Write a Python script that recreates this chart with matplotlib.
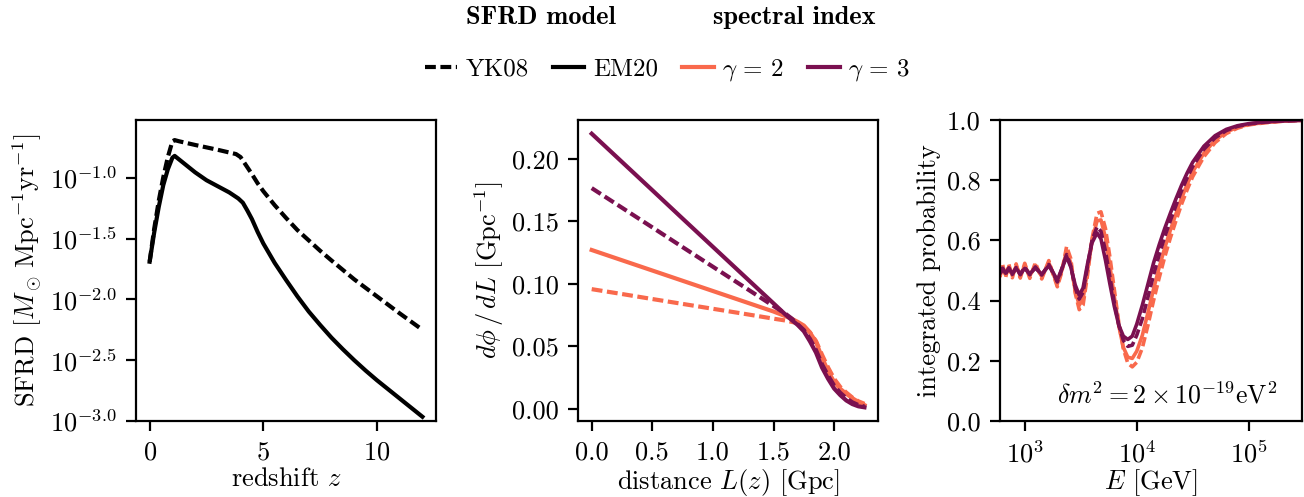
import matplotlib
import matplotlib.pyplot as plt
import numpy as np
from matplotlib.lines import Line2D

matplotlib.use('Agg')

# colours for the two spectral indices
C_G2 = '#f9694c'
C_G3 = '#7a1050'

# --- panel 1: star formation rate density, log10 values
Z_YK08 = [0, 0.2, 0.4, 0.6, 0.8, 1.0, 1.1, 1.3, 2.0, 3.0, 3.8, 4.0, 4.25, 4.5,
          4.75, 5.0, 5.5, 6.0, 6.5, 7.0, 7.5, 8.0, 9.0, 10.0, 11.0, 12.0]
LOG_SFRD_YK08 = [-1.69, -1.42, -1.19, -0.995, -0.83, -0.70, -0.69, -0.70, -0.73,
                 -0.77, -0.805, -0.83, -0.90, -0.97, -1.045, -1.11, -1.225, -1.33,
                 -1.43, -1.515, -1.60, -1.68, -1.835, -1.975, -2.115, -2.25]
Z_EM20 = [0, 0.2, 0.4, 0.6, 0.8, 1.0, 1.1, 1.3, 1.6, 2.0, 2.5, 3.0, 3.5, 3.9,
          4.1, 4.3, 4.5, 4.75, 5.0, 5.5, 6.0, 6.5, 7.0, 7.5, 8.0, 8.5, 9.0, 9.5,
          10.0, 10.5, 11.0, 11.5, 12.0]
LOG_SFRD_EM20 = [-1.69, -1.45, -1.24, -1.06, -0.93, -0.835, -0.82, -0.85, -0.895,
                 -0.955, -1.02, -1.07, -1.12, -1.17, -1.205, -1.27, -1.34, -1.445,
                 -1.54, -1.70, -1.84, -1.975, -2.10, -2.21, -2.315, -2.41, -2.50,
                 -2.585, -2.665, -2.74, -2.815, -2.89, -2.965]
SFRD_TICKS = [-1.0, -1.5, -2.0, -2.5, -3.0]

# --- panel 2: distance distribution dphi/dL
L_GPC = [0, 0.25, 0.5, 0.75, 1.0, 1.25, 1.5, 1.6, 1.65, 1.7, 1.75, 1.8, 1.85,
         1.9, 1.95, 2.0, 2.05, 2.1, 2.15, 2.2, 2.25]
DPHI_YK08_G2 = [0.0957, 0.0918, 0.0878, 0.0839, 0.0800, 0.0761, 0.0721, 0.0706,
                0.0695, 0.0685, 0.0660, 0.0612, 0.0542, 0.0432, 0.0330, 0.0240,
                0.0175, 0.0130, 0.0090, 0.0060, 0.0040]
DPHI_YK08_G3 = [0.1765, 0.1608, 0.1451, 0.1293, 0.1136, 0.0979, 0.0822, 0.0759,
                0.0722, 0.0675, 0.0630, 0.0560, 0.0470, 0.0355, 0.0265, 0.0185,
                0.0128, 0.0085, 0.0052, 0.0030, 0.0018]
DPHI_EM20_G2 = [0.1270, 0.1188, 0.1106, 0.1024, 0.0942, 0.0860, 0.0778, 0.0740,
                0.0720, 0.0695, 0.0666, 0.0610, 0.0535, 0.0410, 0.0300, 0.0215,
                0.0160, 0.0120, 0.0085, 0.0055, 0.0030]
DPHI_EM20_G3 = [0.2200, 0.1974, 0.1748, 0.1521, 0.1295, 0.1069, 0.0843, 0.0752,
                0.0710, 0.0670, 0.0620, 0.0540, 0.0450, 0.0330, 0.0240, 0.0162,
                0.0110, 0.0067, 0.0038, 0.0020, 0.0012]

# --- panel 3: integrated probability vs energy (log10 E in GeV)
LOG_E = [2.778, 2.801, 2.828, 2.857, 2.888, 2.922, 2.959, 2.999, 3.044, 3.094,
         3.151, 3.214, 3.25, 3.29, 3.33, 3.373, 3.41, 3.45, 3.486, 3.52, 3.56,
         3.60, 3.645, 3.68, 3.72, 3.76, 3.80, 3.84, 3.88, 3.92, 3.96, 4.00,
         4.05, 4.10, 4.15, 4.20, 4.25, 4.30, 4.35, 4.40, 4.45, 4.50, 4.60,
         4.70, 4.80, 4.90, 5.00, 5.15, 5.30, 5.477]
PROB_EM20_G3 = [.491, .505, .491, .506, .490, .507, .489, .507, .489, .508,
                .488, .516, .495, .468, .505, .546, .512, .452, .418, .442,
                .522, .592, .625, .605, .535, .455, .380, .318, .282, .271,
                .282, .322, .385, .455, .525, .585, .640, .690, .738, .783,
                .824, .860, .913, .948, .969, .981, .988, .994, .997, .999]
PROB_YK08_G3 = [.489, .508, .488, .509, .487, .510, .486, .511, .486, .512,
                .485, .520, .494, .462, .505, .553, .515, .443, .405, .428,
                .515, .600, .645, .630, .565, .478, .392, .318, .268, .248,
                .252, .285, .340, .412, .485, .552, .612, .666, .716, .765,
                .808, .846, .903, .941, .965, .979, .987, .993, .997, .999]
PROB_EM20_G2 = [.486, .512, .485, .513, .484, .515, .483, .516, .482, .518,
                .480, .526, .492, .455, .500, .565, .525, .432, .385, .405,
                .500, .600, .665, .668, .610, .515, .412, .315, .245, .212,
                .208, .232, .285, .360, .438, .510, .575, .634, .688, .740,
                .786, .828, .890, .933, .960, .976, .985, .992, .996, .999]
PROB_YK08_G2 = [.478, .520, .477, .521, .476, .522, .475, .524, .474, .526,
                .472, .533, .490, .446, .495, .580, .540, .425, .370, .385,
                .485, .605, .690, .695, .640, .545, .435, .325, .240, .192,
                .180, .195, .243, .318, .400, .475, .545, .608, .665, .720,
                .768, .812, .878, .925, .955, .973, .984, .991, .996, .999]

DASH = (0, (2.6, 1.1))


def main():
    plt.rcParams['font.family'] = 'serif'
    plt.rcParams['font.serif'] = ['cmr10']
    plt.rcParams['mathtext.fontset'] = 'cm'
    plt.rcParams['axes.unicode_minus'] = False
    plt.rcParams['axes.formatter.use_mathtext'] = True
    plt.rcParams['font.size'] = 9.5
    plt.rcParams['axes.labelpad'] = 2

    fig = plt.figure(figsize=(6.52, 2.485), dpi=200)
    ax1 = fig.add_axes([0.1043, 0.1529, 0.2301, 0.6056])
    ax2 = fig.add_axes([0.4433, 0.1529, 0.2301, 0.6056])
    ax3 = fig.add_axes([0.7669, 0.1529, 0.2316, 0.6056])

    # SFRD
    ax1.plot(Z_YK08, 10 ** np.array(LOG_SFRD_YK08), color='k', lw=1.5, ls=DASH)
    ax1.plot(Z_EM20, 10 ** np.array(LOG_SFRD_EM20), color='k', lw=1.5)
    ax1.set_yscale('log')
    ax1.set_ylim(10 ** -3.0, 10 ** -0.525)
    ax1.set_yticks([10 ** t for t in SFRD_TICKS])
    ax1.set_yticklabels([r'$10^{%.1f}$' % t for t in SFRD_TICKS])
    ax1.yaxis.set_minor_locator(matplotlib.ticker.NullLocator())
    ax1.set_xticks([0, 5, 10])
    ax1.set_xlabel(r'redshift $z$', labelpad=1)
    ax1.set_ylabel(r'SFRD $[M_\odot\,\mathrm{Mpc}^{-1}\mathrm{yr}^{-1}]$')

    # distance distribution
    ax2.plot(L_GPC, DPHI_YK08_G2, color=C_G2, lw=1.5, ls=DASH)
    ax2.plot(L_GPC, DPHI_EM20_G2, color=C_G2, lw=1.5)
    ax2.plot(L_GPC, DPHI_YK08_G3, color=C_G3, lw=1.5, ls=DASH)
    ax2.plot(L_GPC, DPHI_EM20_G3, color=C_G3, lw=1.5)
    ax2.set_xticks([0, 0.5, 1.0, 1.5, 2.0])
    ax2.set_yticks([0, 0.05, 0.10, 0.15, 0.20])
    ax2.xaxis.set_major_formatter(matplotlib.ticker.FormatStrFormatter('%.1f'))
    ax2.yaxis.set_major_formatter(matplotlib.ticker.FormatStrFormatter('%.2f'))
    ax2.set_xlabel(r'distance $L(z)$ [Gpc]', labelpad=1)
    ax2.set_ylabel(r'$d\phi\,/\,dL$ [Gpc$^{-1}$]')

    # integrated probability
    e_gev = 10 ** np.array(LOG_E)
    ax3.plot(e_gev, PROB_YK08_G2, color=C_G2, lw=1.3, ls=DASH)
    ax3.plot(e_gev, PROB_EM20_G2, color=C_G2, lw=1.3)
    ax3.plot(e_gev, PROB_YK08_G3, color=C_G3, lw=1.3, ls=DASH)
    ax3.plot(e_gev, PROB_EM20_G3, color=C_G3, lw=1.3)
    ax3.set_xscale('log')
    ax3.set_xlim(600, 3e5)
    ax3.set_ylim(0, 1)
    ax3.xaxis.set_minor_locator(matplotlib.ticker.NullLocator())
    ax3.set_yticks([0, 0.2, 0.4, 0.6, 0.8, 1.0])
    ax3.yaxis.set_major_formatter(matplotlib.ticker.FormatStrFormatter('%.1f'))
    ax3.set_xlabel(r'$E$ [GeV]', labelpad=0)
    ax3.set_ylabel('integrated probability')
    ax3.text(0.553, 0.085, r'$\delta m^2 = 2\times 10^{-19}\mathrm{eV}^2$',
             transform=ax3.transAxes, ha='center', va='center', fontsize=9.3)

    # legend across the top
    handles = [Line2D([], [], color='k', lw=1.5, ls=DASH),
               Line2D([], [], color='k', lw=1.5),
               Line2D([], [], color=C_G2, lw=1.5),
               Line2D([], [], color=C_G3, lw=1.5)]
    labels = ['YK08', 'EM20', r'$\gamma\,=\,2$', r'$\gamma\,=\,3$']
    fig.legend(handles, labels, ncol=4, loc='center', bbox_to_anchor=(0.512, 0.859),
               frameon=False, handlelength=1.27, handletextpad=0.35, columnspacing=0.95,
               fontsize=9)
    fig.text(0.415, 0.964, 'SFRD model', ha='center', va='center', family='cmb10',
             fontsize=9.5)
    fig.text(0.609, 0.964, 'spectral index', ha='center', va='center', family='cmb10',
             fontsize=9.5)

    fig.savefig('out.png', dpi=200)


if __name__ == '__main__':
    main()
